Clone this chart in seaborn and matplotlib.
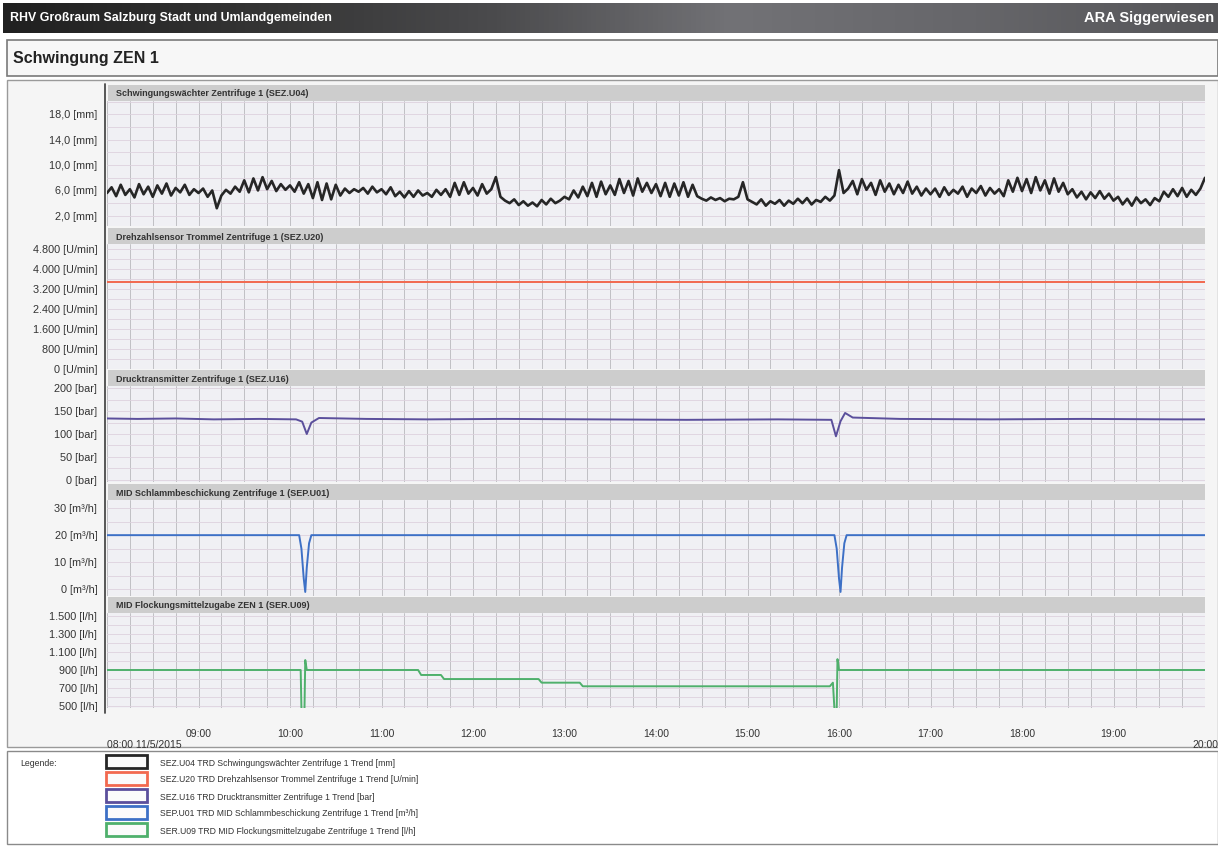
import pandas as pd
import numpy as np
import matplotlib
matplotlib.use("Agg")
import matplotlib.pyplot as plt
import matplotlib.dates as mdates
from matplotlib.patches import Rectangle
from matplotlib.colors import LinearSegmentedColormap
import seaborn as sns

sns.set_style("white")
plt.rcParams['font.family'] = ['Liberation Sans', 'DejaVu Sans']

START = pd.Timestamp("2015-05-11 08:00")

# SEZ.U04 Schwingung [mm], ein Wert alle 3 Minuten ab 08:00
vib_mm = [
    5.6, 6.5, 5.1, 6.9, 5.3, 6.2, 4.9, 7.0, 5.4, 6.6, 5.0, 6.8, 5.5, 7.1, 5.2, 6.4, 5.7, 6.9, 5.3, 6.2,  # 08
    5.6, 6.3, 5.0, 6.0, 3.2, 5.2, 6.1, 5.5, 6.6, 5.8, 7.6, 5.7, 7.9, 6.0, 8.1, 6.2, 7.5, 5.9, 7.0, 6.1,  # 09
    6.8, 5.8, 7.3, 5.5, 7.0, 4.8, 7.3, 4.5, 7.1, 4.6, 6.9, 5.2, 6.3, 5.6, 6.2, 5.8, 6.4, 5.5, 6.6, 5.7,  # 10
    6.2, 5.4, 6.5, 5.1, 5.8, 4.9, 5.9, 5.0, 6.0, 5.2, 5.6, 5.0, 6.1, 5.3, 6.2, 5.0, 7.2, 5.3, 7.3, 5.5,  # 11
    6.4, 5.2, 7.0, 5.5, 6.2, 8.1, 5.0, 4.4, 4.0, 4.6, 3.7, 4.3, 3.6, 4.1, 3.5, 4.5, 3.8, 4.7, 4.0, 4.4,  # 12
    5.0, 4.6, 6.0, 4.9, 6.6, 5.1, 7.2, 5.0, 7.4, 5.4, 6.8, 5.3, 7.8, 5.6, 7.5, 5.2, 7.9, 5.8, 7.2, 5.6,  # 13
    7.0, 5.1, 7.2, 5.0, 7.1, 5.2, 7.3, 5.0, 6.9, 5.1, 4.7, 4.4, 4.9, 4.5, 4.8, 4.3, 4.7, 4.6, 5.0, 7.3,  # 14
    4.6, 4.2, 3.8, 4.6, 3.6, 4.3, 3.9, 4.5, 3.6, 4.4, 3.9, 4.7, 4.0, 4.8, 3.8, 4.5, 4.2, 5.0, 4.4, 5.2,  # 15
    9.2, 5.6, 6.3, 7.5, 5.4, 7.8, 6.1, 7.2, 5.3, 7.6, 5.8, 7.1, 5.4, 6.9, 5.6, 7.4, 5.5, 6.6, 5.2, 6.3,  # 16
    5.4, 6.3, 5.0, 6.5, 5.3, 6.1, 5.5, 6.6, 5.0, 6.3, 5.6, 6.7, 5.2, 6.4, 5.5, 6.2, 5.1, 7.6, 5.8, 8.0,  # 17
    5.9, 7.8, 5.6, 8.1, 6.0, 7.6, 5.5, 7.9, 5.8, 7.2, 5.4, 6.2, 4.9, 5.8, 4.6, 5.7, 4.8, 5.9, 4.7, 5.5,  # 18
    4.4, 5.0, 3.8, 4.7, 3.6, 4.9, 4.0, 4.6, 3.7, 4.8, 4.3, 5.8, 5.0, 6.2, 5.1, 6.4, 5.0, 6.1, 5.3, 6.3,  # 19
    8.0,
]

# SEZ.U20 Drehzahl [U/min] (Minuten ab 08:00)
speed_min = [0, 720]
speed_val = [3500, 3500]

# SEZ.U16 Druck [bar]
pres_min = [0, 20, 45, 70, 100, 124, 128, 131, 134, 139, 170, 210, 260, 320,
            380, 440, 475, 478, 481, 484, 489, 520, 580, 640, 700, 720]
pres_val = [134, 133, 134, 132, 133, 132, 127, 100, 125, 135, 133, 132, 133, 132,
            131, 132, 131, 95, 128, 146, 136, 133, 132, 133, 132, 132]

# SEP.U01 Schlammbeschickung [m³/h]
feed_min = [0, 126, 127.5, 129, 130, 131, 132.5, 134,
            477, 478.5, 480, 481, 482, 483.5, 485, 720]
feed_val = [20, 20, 15, 4, -1, 8, 17, 20,
            20, 15, 4, -1, 8, 17, 20, 20]

# SER.U09 Flockungsmittelzugabe [l/h]
floc_min = [0, 127, 127.5, 129.5, 130, 131, 204, 206, 219, 221, 283, 285,
            310, 312, 474, 476, 477, 478.5, 479, 480, 720]
floc_val = [900, 900, 470, 470, 1010, 900, 900, 845, 845, 800, 800, 760,
            760, 720, 720, 760, 470, 470, 1020, 900, 900]

headers = [
    "Schwingungswächter Zentrifuge 1 (SEZ.U04)",
    "Drehzahlsensor Trommel Zentrifuge 1 (SEZ.U20)",
    "Drucktransmitter Zentrifuge 1 (SEZ.U16)",
    "MID Schlammbeschickung Zentrifuge 1 (SEP.U01)",
    "MID Flockungsmittelzugabe ZEN 1 (SER.U09)",
]
legend_labels = [
    "SEZ.U04 TRD Schwingungswächter Zentrifuge 1 Trend [mm]",
    "SEZ.U20 TRD Drehzahlsensor Trommel Zentrifuge 1 Trend [U/min]",
    "SEZ.U16 TRD Drucktransmitter Zentrifuge 1 Trend [bar]",
    "SEP.U01 TRD MID Schlammbeschickung Zentrifuge 1 Trend [m³/h]",
    "SER.U09 TRD MID Flockungsmittelzugabe Zentrifuge 1 Trend [l/h]",
]
colors = ["#262626", "#f2694f", "#5b4f9c", "#3d70c6", "#4fb06c"]

yticks = [
    [2, 6, 10, 14, 18],
    [0, 800, 1600, 2400, 3200, 4000, 4800],
    [0, 50, 100, 150, 200],
    [0, 10, 20, 30],
    [500, 700, 900, 1100, 1300, 1500],
]
yticklabels = [
    ["2,0 [mm]", "6,0 [mm]", "10,0 [mm]", "14,0 [mm]", "18,0 [mm]"],
    ["0 [U/min]", "800 [U/min]", "1.600 [U/min]", "2.400 [U/min]",
     "3.200 [U/min]", "4.000 [U/min]", "4.800 [U/min]"],
    ["0 [bar]", "50 [bar]", "100 [bar]", "150 [bar]", "200 [bar]"],
    ["0 [m³/h]", "10 [m³/h]", "20 [m³/h]", "30 [m³/h]"],
    ["500 [l/h]", "700 [l/h]", "900 [l/h]", "1.100 [l/h]", "1.300 [l/h]", "1.500 [l/h]"],
]
ylims = [(0.4, 20.1), (0, 5000), (-5, 205), (-2.5, 33), (480, 1530)]
ygrid_step = [2, 400, 25, 5, 100]

hour_labels = ["\n08:00 11/5/2015", "09:00", "10:00", "11:00", "12:00", "13:00",
               "14:00", "15:00", "16:00", "17:00", "18:00", "19:00", "\n20:00"]


def to_time(minutes):
    return START + pd.to_timedelta(minutes, unit="min")


series = [
    (pd.date_range(START, periods=len(vib_mm), freq="3min"), vib_mm),
    (to_time(speed_min), speed_val),
    (to_time(pres_min), pres_val),
    (to_time(feed_min), feed_val),
    (to_time(floc_min), floc_val),
]

W, H = 1218, 847
X0, X1 = 107, 1205
fig = plt.figure(figsize=(W / 100, H / 100), dpi=100)

# Hintergrund / Rahmen in Pixelkoordinaten
bg = fig.add_axes([0, 0, 1, 1])
bg.set_zorder(-5)
cmap = LinearSegmentedColormap.from_list(
    "bar", ["#202020", "#333333", "#4a4a4c", "#727276", "#66666a", "#555558"])
bg.imshow(np.linspace(0, 1, 256)[None, :], extent=(3, 1218, 33, 3),
          aspect="auto", cmap=cmap)
bg.text(10, 18, "RHV Großraum Salzburg Stadt und Umlandgemeinden", color="white",
        fontsize=8.9, fontweight="bold", va="center", ha="left")
bg.text(1084, 18, "ARA Siggerwiesen", color="white", fontsize=10.5,
        fontweight="bold", va="center", ha="left")
bg.add_patch(Rectangle((7, 40), 1211, 36, fc="#f7f7f7", ec="#7a7a7a", lw=1.2))
bg.text(13, 58, "Schwingung ZEN 1", fontsize=11.5, fontweight="bold",
        color="#222222", va="center", ha="left")
bg.add_patch(Rectangle((7, 80), 1211, 667, fc="#f5f5f5", ec="#9a9a9a", lw=1))
bg.add_patch(Rectangle((7, 751), 1211, 93, fc="white", ec="#8a8a8a", lw=1))

# Legende
bg.text(20, 762, "Legende:", fontsize=6.3, color="#333333", va="center_baseline")
for k, (c, lab) in enumerate(zip(colors, legend_labels)):
    yc = 762 + 17 * k
    bg.add_patch(Rectangle((106, yc - 6.5), 41, 13, fc="#fbfbfb", ec=c, lw=2))
    bg.text(160, yc, lab, fontsize=6.2, color="#333333",
            va="center_baseline", ha="left")

panels = [(101, 226), (244, 369), (386, 482), (500, 596), (613, 708)]
header_px = [(85, 101), (228, 244), (370, 386), (484, 500), (597, 613)]
for (h0, h1), title in zip(header_px, headers):
    bg.add_patch(Rectangle((108, h0), X1 - 108, h1 - h0, fc="#cdcdcd", ec="none"))
    bg.text(116, (h0 + h1) / 2, title, fontsize=6.5, fontweight="bold",
            color="#333333", va="center_baseline", ha="left")
bg.plot([105, 105], [84, 713], color="#4a4a4a", lw=1.3)
bg.set_xlim(0, W)
bg.set_ylim(H, 0)
bg.axis("off")

xmin = START
xmax = to_time(720)
hours = pd.date_range(START, periods=13, freq="h")
quarters = pd.date_range(START, to_time(720), freq="15min")

for i, (top, bottom) in enumerate(panels):
    ax = fig.add_axes([X0 / W, 1 - bottom / H, (X1 - X0) / W, (bottom - top) / H])
    ax.set_facecolor("#f0f0f4")
    t, v = series[i]
    sns.lineplot(x=t, y=v, ax=ax, color=colors[i],
                 linewidth=1.9 if i == 0 else 1.4)
    ax.set_xlim(xmin, xmax)
    ax.set_ylim(*ylims[i])
    ax.set_yticks(yticks[i])
    ax.set_yticklabels(yticklabels[i])
    ax.yaxis.set_minor_locator(matplotlib.ticker.MultipleLocator(ygrid_step[i]))
    ax.set_xticks(mdates.date2num(hours.to_pydatetime()))
    ax.set_xticks(mdates.date2num(quarters.to_pydatetime()), minor=True)
    ax.set_axisbelow(True)
    ax.grid(True, axis="x", which="both", color="#b9b9bd", lw=0.6)
    ax.grid(True, axis="y", which="both", color="#ddd2de", lw=0.6)
    ax.tick_params(axis="y", which="both", length=0, pad=7,
                   labelsize=7.8, labelcolor="#333333")
    ax.set_xlabel("")
    ax.set_ylabel("")
    for s in ax.spines.values():
        s.set_visible(False)
    if i < 4:
        ax.tick_params(axis="x", which="both", length=0, labelbottom=False)
    else:
        ax.set_xticklabels(hour_labels)
        ax.tick_params(axis="x", which="both", direction="out", length=7,
                       color="#9a9a9a", labelsize=7.5, labelcolor="#333333", pad=8)
        ax.get_xticklabels()[0].set_ha("left")

fig.savefig("out.png", dpi=100)
